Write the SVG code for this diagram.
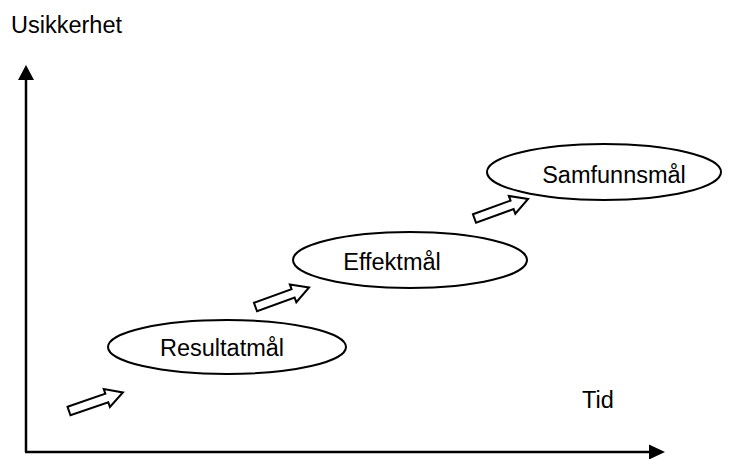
<svg xmlns="http://www.w3.org/2000/svg" width="735" height="459" viewBox="0 0 735 459">
<style>
.lbl{font-family:"Liberation Sans",Arial,sans-serif;font-size:23.5px;fill:#000}
.oval{fill:#fff;stroke:#000;stroke-width:2}
.axis{stroke:#000;stroke-width:2.5;fill:none}
.blk{fill:#fff;stroke:#000;stroke-width:2;stroke-linejoin:miter}
</style>
<defs>
<path id="blockArrow" d="M0,-4.5 L40,-4.5 L40,-9.5 L57,0 L40,9.5 L40,4.5 L0,4.5 Z"/>
</defs>
<rect width="735" height="459" fill="#fff"/>
<g id="axes">
<line class="axis" x1="26" y1="452" x2="26" y2="78"/>
<polygon points="26,65 18,80 34,80" fill="#000"/>
<line class="axis" x1="25" y1="452" x2="651" y2="452"/>
<polygon points="665,452 649,444.5 649,459.5" fill="#000"/>
</g>
<text class="lbl" x="11" y="33">Usikkerhet</text>
<text class="lbl" x="582" y="408">Tid</text>
<g id="connectors">
<use href="#blockArrow" class="blk" transform="translate(69,411) rotate(-19)"/>
<use href="#blockArrow" class="blk" transform="translate(255.5,307) rotate(-20)"/>
<use href="#blockArrow" class="blk" transform="translate(474.5,218.5) rotate(-20)"/>
</g>
<g id="resultatmal">
<ellipse class="oval" cx="227" cy="347" rx="119" ry="27"/>
<text class="lbl" x="222" y="356" text-anchor="middle">Resultatmål</text>
</g>
<g id="effektmal">
<ellipse class="oval" cx="410" cy="260" rx="117" ry="28"/>
<text class="lbl" x="392" y="270" text-anchor="middle">Effektmål</text>
</g>
<g id="samfunnsmal">
<ellipse class="oval" cx="604" cy="172" rx="117" ry="28"/>
<text class="lbl" x="614" y="183" text-anchor="middle">Samfunnsmål</text>
</g>
</svg>
